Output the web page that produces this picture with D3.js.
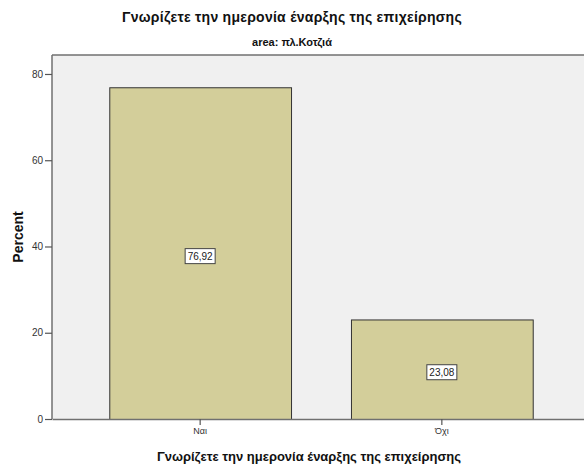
<!DOCTYPE html>
<html><head><meta charset="utf-8">
<script src="https://cdn.jsdelivr.net/npm/d3@7"></script>
<style>body{margin:0;background:#fff}svg{display:block;font-family:Arial,"Liberation Sans",sans-serif}</style>
</head><body>
<svg id="c" width="584" height="468"></svg>
<script>
const categories = ["Ναι", "Όχι"];
const values = [76.92, 23.08];
const valueLabels = ["76,92", "23,08"];
const yTicks = [0, 20, 40, 60, 80];
const title = "Γνωρίζετε την ημερονία έναρξης της επιχείρησης";
const subtitle = "area: πλ.Κοτζιά";
const xTitle = "Γνωρίζετε την ημερονία έναρξης της επιχείρησης";
const yTitle = "Percent";

const svg = d3.select("#c");
const L = 52, R = 590, T = 55, B = 419;
const x = d3.scaleBand().domain(categories).range([L, R]).paddingInner(0.248).paddingOuter(0.237);
const y = d3.scaleLinear().domain([0, 84.4]).range([B, T]);

svg.append("rect").attr("x", L).attr("y", T).attr("width", R - L).attr("height", B - T)
  .attr("fill", "#f0f0f0");

svg.selectAll("rect.bar").data(values).join("rect").attr("class", "bar")
  .attr("x", (d, i) => x(categories[i]) + 0.5).attr("y", d => y(d) + 0.5)
  .attr("width", x.bandwidth()).attr("height", d => B - y(d))
  .attr("fill", "#d3ce9a").attr("stroke", "#333").attr("stroke-width", 1);

svg.append("line").attr("x1", L).attr("x2", R).attr("y1", T).attr("y2", T).attr("stroke", "#707070").attr("stroke-width", 1.5);
svg.append("line").attr("x1", L).attr("x2", L).attr("y1", T).attr("y2", B).attr("stroke", "#707070").attr("stroke-width", 1.5);

const yAxis = svg.append("g").attr("transform", `translate(${L},0)`)
  .call(d3.axisLeft(y).tickValues(yTicks).tickSize(7).tickSizeOuter(0).tickPadding(2));
yAxis.select(".domain").remove();
yAxis.selectAll("line").attr("stroke", "#555").attr("stroke-width", 1.2);
yAxis.selectAll("text").attr("font-size", 10).attr("fill", "#333").attr("font-family", "Arial");

const xAxis = svg.append("g").attr("transform", `translate(0,${B})`)
  .call(d3.axisBottom(x).tickSize(6).tickSizeOuter(0).tickPadding(3));
xAxis.select(".domain").attr("stroke", "#707070").attr("stroke-width", 1.5);
xAxis.selectAll("line").attr("stroke", "#555").attr("stroke-width", 1.2);
xAxis.selectAll("text").attr("font-size", 9).attr("fill", "#333").attr("font-family", "Arial");

const lab = svg.selectAll("g.lab").data(values).join("g").attr("class", "lab")
  .attr("transform", (d, i) => `translate(${x(categories[i]) + x.bandwidth() / 2},${(y(d) + B) / 2 + 3})`);
lab.append("rect").attr("x", -15).attr("y", -7.5).attr("width", 30).attr("height", 15)
  .attr("fill", "#fff").attr("stroke", "#444").attr("stroke-width", 1);
lab.append("text").attr("text-anchor", "middle").attr("dy", "0.35em").attr("font-size", 10)
  .attr("fill", "#222").text((d, i) => valueLabels[i]);

function fitText(sel, target) {
  const n = sel.text().length;
  const w = sel.node().getComputedTextLength();
  sel.attr("letter-spacing", ((target - w) / n).toFixed(3));
}

const t1 = svg.append("text").attr("x", 292).attr("y", 22).attr("text-anchor", "middle")
  .attr("font-size", 14).attr("font-weight", "bold").attr("fill", "#111").text(title);
fitText(t1, 340);
svg.append("text").attr("x", 292).attr("y", 46).attr("text-anchor", "middle")
  .attr("font-size", 11).attr("font-weight", "bold").attr("fill", "#111").text(subtitle);
const t3 = svg.append("text").attr("x", 309).attr("y", 461).attr("text-anchor", "middle")
  .attr("font-size", 13).attr("font-weight", "bold").attr("fill", "#111").text(xTitle);
fitText(t3, 304);
svg.append("text").attr("transform", "translate(23,237) rotate(-90)").attr("text-anchor", "middle")
  .attr("font-size", 14).attr("font-weight", "bold").attr("fill", "#111").text(yTitle);
</script>
</body></html>
